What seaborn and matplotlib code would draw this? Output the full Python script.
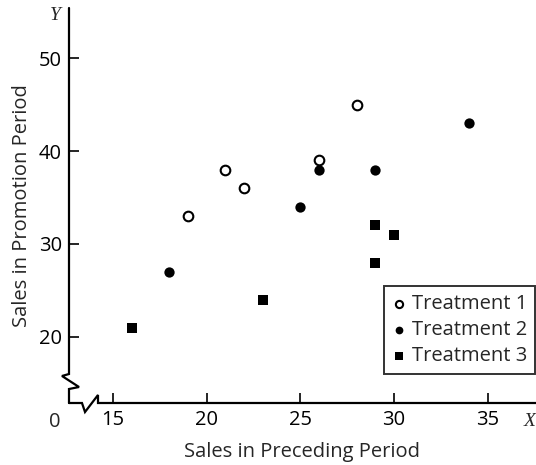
import pandas as pd
import matplotlib.pyplot as plt
import seaborn as sns

# Sales in preceding period (X) and promotion period (Y) per treatment
treat1_x = [21, 26, 22, 28, 19]
treat1_y = [38, 39, 36, 45, 33]
treat2_x = [34, 26, 29, 18, 25]
treat2_y = [43, 38, 38, 27, 34]
treat3_x = [23, 29, 30, 16, 29]
treat3_y = [24, 32, 31, 21, 28]
labels = ['Treatment 1', 'Treatment 2', 'Treatment 3']
x_ticks = [15, 20, 25, 30, 35]
y_ticks = [20, 30, 40, 50]

df = pd.concat([
    pd.DataFrame({'x': treat1_x, 'y': treat1_y, 'group': labels[0]}),
    pd.DataFrame({'x': treat2_x, 'y': treat2_y, 'group': labels[1]}),
    pd.DataFrame({'x': treat3_x, 'y': treat3_y, 'group': labels[2]}),
])

sns.set_style('white')
plt.rcParams['font.family'] = ['Open Sans', 'DejaVu Sans']

fig = plt.figure(figsize=(5.36, 4.65), dpi=100)
ax = fig.add_axes([69 / 536, 62 / 465, 467 / 536, 395 / 465])

styles = {
    'Treatment 1': dict(marker='o', facecolor='white', edgecolor='black', linewidth=1.5, s=48),
    'Treatment 2': dict(marker='o', color='black', edgecolor='black', linewidth=0, s=55),
    'Treatment 3': dict(marker='s', color='black', edgecolor='black', linewidth=0, s=48),
}
for g in labels:
    sns.scatterplot(data=df[df['group'] == g], x='x', y='y', label=g, ax=ax, **styles[g])

ax.set_xlim(12.65, 37.58)
ax.set_ylim(12.9, 55.38)
ax.set_xticks(x_ticks)
ax.set_yticks(y_ticks)
ax.tick_params(direction='in', length=7, width=1.2, labelsize=14.5, pad=5,
               bottom=True, left=True, colors='black')
for s in ax.spines.values():
    s.set_visible(False)

# axes with break marks
kw = dict(transform=ax.transAxes, color='black', lw=1.6, clip_on=False,
          solid_joinstyle='miter')
ax.plot([0, 0, -0.015, 0.0214, 0, 0], [1, 0.0734, 0.0684, 0.0405, 0.0354, 0], **kw)
ax.plot([0, 0.0278, 0.0343, 0.0621, 0.0621, 1], [0, 0, -0.0228, 0.0203, 0, 0], **kw)

ax.text(-0.03, -0.048, '0', transform=ax.transAxes, ha='center', va='center', fontsize=14.5)
ax.text(0.987, -0.046, 'X', transform=ax.transAxes, ha='center', va='center',
        fontsize=14, style='italic', family='Liberation Serif')
ax.text(-0.03, 0.982, 'Y', transform=ax.transAxes, ha='center', va='center',
        fontsize=14, style='italic', family='Liberation Serif')

ax.set_xlabel('Sales in Preceding Period', fontsize=14.5, labelpad=9)
ax.set_ylabel('Sales in Promotion Period', fontsize=14.5, labelpad=5)

leg = ax.legend(loc='upper right', bbox_to_anchor=(0.998, 0.296), borderaxespad=0,
                fontsize=14.5, frameon=True, fancybox=False, handlelength=0.6,
                handletextpad=0.35, markerscale=0.75, borderpad=0.4, labelspacing=0.3)
leg.get_frame().set_edgecolor('black')
leg.get_frame().set_linewidth(1.4)

plt.savefig('out.png', dpi=100)
